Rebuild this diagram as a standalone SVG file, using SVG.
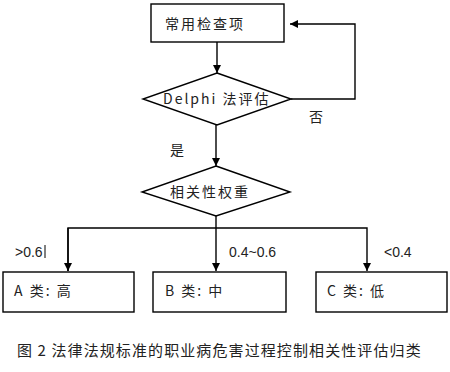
<svg xmlns="http://www.w3.org/2000/svg" width="450" height="372" viewBox="0 0 450 372">
<defs>
<marker id="ah" viewBox="0 0 10 10" refX="10" refY="5" markerWidth="8" markerHeight="8" markerUnits="userSpaceOnUse" orient="auto"><path d="M0,0 L10,5 L0,10 z" fill="#000"/></marker>
<style>
.box{fill:#fff;stroke:#000;stroke-width:1.4}
.ln{fill:none;stroke:#000;stroke-width:1.4}
.cj{font-family:"Noto Sans CJK SC","Liberation Serif",serif;font-size:14px;fill:#222;letter-spacing:2px}
.num{font-family:"Liberation Sans",sans-serif;font-size:14px;fill:#222}
.cap{font-family:"Noto Sans CJK SC",sans-serif;font-size:15px;fill:#222;letter-spacing:1.1px}
</style>
</defs>
<rect width="450" height="372" fill="#fff"/>
<g id="connectors">
<line class="ln" x1="217" y1="42" x2="217" y2="73" marker-end="url(#ah)"/>
<polyline class="ln" points="291,99 355,99 355,24 290,24" marker-end="url(#ah)"/>
<line class="ln" x1="216" y1="125" x2="216" y2="166" marker-end="url(#ah)"/>
<line class="ln" x1="216" y1="216" x2="216" y2="271" marker-end="url(#ah)"/>
<polyline class="ln" points="68,271 68,228 367,228 367,271" marker-end="url(#ah)"/>
<line class="ln" x1="68" y1="228" x2="68" y2="271" marker-end="url(#ah)"/>
<text class="cj" x="309" y="122">否</text>
<text class="cj" x="170" y="155">是</text>
<text class="num" x="15" y="257">&gt;0.6</text>
<line x1="45" y1="245" x2="45" y2="258" stroke="#000" stroke-width="1"/>
<text class="num" x="229" y="257">0.4~0.6</text>
<text class="num" x="384" y="257">&lt;0.4</text>
</g>
<g id="n1">
<rect class="box" x="151" y="4" width="133" height="38"/>
<text class="cj" x="165" y="29">常用检查项</text>
</g>
<g id="n2">
<polygon class="box" points="217,73 291,99 217,125 143,99"/>
<text class="cj" x="163" y="104" letter-spacing="1">Delphi 法评估</text>
</g>
<g id="n3">
<polygon class="box" points="216,166 290,192 216,216 142,192"/>
<text class="cj" x="170" y="197">相关性权重</text>
</g>
<g id="nA">
<rect class="box" x="3" y="272" width="131" height="40"/>
<text class="cj" x="14" y="296">A 类: 高</text>
</g>
<g id="nB">
<rect class="box" x="153" y="272" width="133" height="40"/>
<text class="cj" x="165" y="296">B 类: 中</text>
</g>
<g id="nC">
<rect class="box" x="316" y="272" width="131" height="40"/>
<text class="cj" x="327" y="296">C 类: 低</text>
</g>
<text class="cap" x="17" y="356">图 2 法律法规标准的职业病危害过程控制相关性评估归类</text>
</svg>
